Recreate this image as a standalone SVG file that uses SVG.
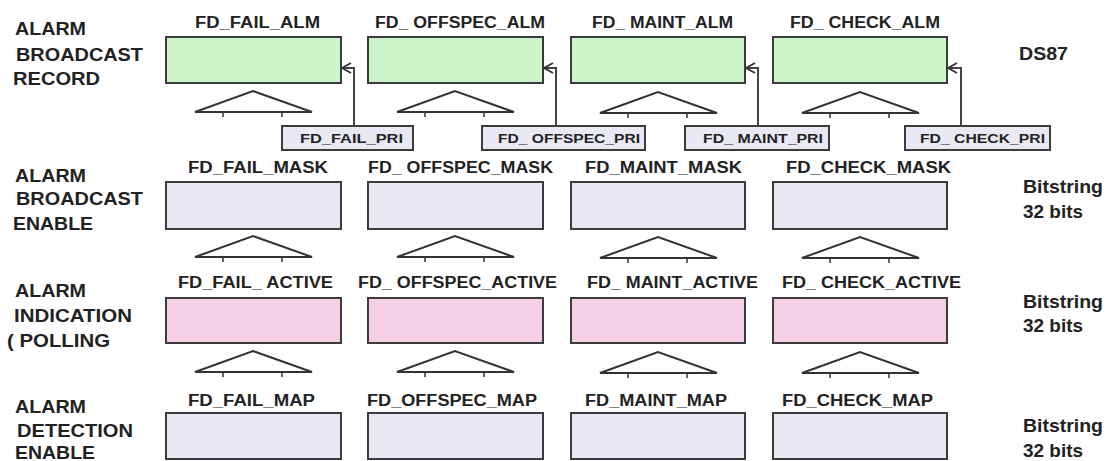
<svg xmlns="http://www.w3.org/2000/svg" width="1112" height="461" viewBox="0 0 1112 461">
<defs>
<style>
text{font-family:"Liberation Sans",Arial,sans-serif;font-weight:bold;fill:#222;}
.lt{font-size:18px;}
.nl{font-size:16px;}
.pl{font-size:13px;}
.rt{font-size:18px;}
.box{stroke:#3c3c3c;stroke-width:2;}
.g{fill:#ccf4c8;}
.l{fill:#e9e9f5;}
.p{fill:#f4cfe6;}
.pri{fill:#e9e9f5;stroke:#3c3c3c;stroke-width:2;}
.tri{fill:#fff;stroke:#333;stroke-width:2;stroke-linejoin:miter;}
.tick{stroke:#333;stroke-width:1.5;}
.con{fill:none;stroke:#444;stroke-width:2;}
</style>
<marker id="arr" markerWidth="12" markerHeight="12" refX="10" refY="6" orient="auto" markerUnits="userSpaceOnUse">
<path d="M1,1 L10,6 L1,11" fill="none" stroke="#333" stroke-width="1.8"/>
</marker>
<g id="triShape">
<polygon class="tri" points="0,21 58,0 117,21"/>
<line class="tick" x1="28" y1="21" x2="28" y2="26"/>
<line class="tick" x1="87" y1="21" x2="87" y2="26"/>
</g>
</defs>
<rect width="1112" height="461" fill="#ffffff"/>

<g id="row-labels">
<text class="lt" x="15" y="35" textLength="71" lengthAdjust="spacingAndGlyphs">ALARM</text>
<text class="lt" x="16" y="61" textLength="127" lengthAdjust="spacingAndGlyphs">BROADCAST</text>
<text class="lt" x="13" y="85" textLength="87" lengthAdjust="spacingAndGlyphs">RECORD</text>
<text class="lt" x="15" y="182" textLength="71" lengthAdjust="spacingAndGlyphs">ALARM</text>
<text class="lt" x="16" y="205" textLength="127" lengthAdjust="spacingAndGlyphs">BROADCAST</text>
<text class="lt" x="13" y="230" textLength="80" lengthAdjust="spacingAndGlyphs">ENABLE</text>
<text class="lt" x="15" y="297" textLength="71" lengthAdjust="spacingAndGlyphs">ALARM</text>
<text class="lt" x="14" y="322" textLength="118" lengthAdjust="spacingAndGlyphs">INDICATION</text>
<text class="lt" x="7" y="347" textLength="103" lengthAdjust="spacingAndGlyphs">( POLLING</text>
<text class="lt" x="15" y="413" textLength="71" lengthAdjust="spacingAndGlyphs">ALARM</text>
<text class="lt" x="17" y="437" textLength="116" lengthAdjust="spacingAndGlyphs">DETECTION</text>
<text class="lt" x="15" y="459" textLength="80" lengthAdjust="spacingAndGlyphs">ENABLE</text>
</g>

<g id="right-labels">
<text class="rt" x="1019" y="60" textLength="49" lengthAdjust="spacingAndGlyphs">DS87</text>
<text class="rt" x="1023" y="193" textLength="80" lengthAdjust="spacingAndGlyphs">Bitstring</text>
<text class="rt" x="1023" y="218" textLength="60" lengthAdjust="spacingAndGlyphs">32 bits</text>
<text class="rt" x="1023" y="308" textLength="80" lengthAdjust="spacingAndGlyphs">Bitstring</text>
<text class="rt" x="1023" y="332" textLength="60" lengthAdjust="spacingAndGlyphs">32 bits</text>
<text class="rt" x="1023" y="432" textLength="80" lengthAdjust="spacingAndGlyphs">Bitstring</text>
<text class="rt" x="1023" y="457" textLength="60" lengthAdjust="spacingAndGlyphs">32 bits</text>
</g>

<!-- Row 1: alarm broadcast record -->
<g id="fd-fail-alm">
<text class="nl" x="195" y="28" textLength="125" lengthAdjust="spacingAndGlyphs">FD_FAIL_ALM</text>
<rect class="box g" x="166" y="37" width="175" height="46"/>
</g>
<g id="fd-offspec-alm">
<text class="nl" x="375" y="28" textLength="170" lengthAdjust="spacingAndGlyphs">FD_ OFFSPEC_ALM</text>
<rect class="box g" x="368" y="37" width="175" height="46"/>
</g>
<g id="fd-maint-alm">
<text class="nl" x="592" y="28" textLength="141" lengthAdjust="spacingAndGlyphs">FD_ MAINT_ALM</text>
<rect class="box g" x="571" y="37" width="174" height="46"/>
</g>
<g id="fd-check-alm">
<text class="nl" x="790" y="28" textLength="150" lengthAdjust="spacingAndGlyphs">FD_ CHECK_ALM</text>
<rect class="box g" x="773" y="37" width="174" height="46"/>
</g>

<!-- PRI boxes -->
<g id="fd-fail-pri">
<rect class="pri" x="282" y="126" width="131" height="24"/>
<text class="pl" x="300" y="143" textLength="103" lengthAdjust="spacingAndGlyphs">FD_FAIL_PRI</text>
</g>
<g id="fd-offspec-pri">
<rect class="pri" x="482" y="126" width="163" height="24"/>
<text class="pl" x="498" y="143" textLength="142" lengthAdjust="spacingAndGlyphs">FD_ OFFSPEC_PRI</text>
</g>
<g id="fd-maint-pri">
<rect class="pri" x="685" y="126" width="144" height="24"/>
<text class="pl" x="703" y="143" textLength="120" lengthAdjust="spacingAndGlyphs">FD_ MAINT_PRI</text>
</g>
<g id="fd-check-pri">
<rect class="pri" x="905" y="126" width="145" height="24"/>
<text class="pl" x="920" y="143" textLength="125" lengthAdjust="spacingAndGlyphs">FD_ CHECK_PRI</text>
</g>

<!-- Row 2: alarm broadcast enable -->
<g id="fd-fail-mask">
<text class="nl" x="188" y="173" textLength="140" lengthAdjust="spacingAndGlyphs">FD_FAIL_MASK</text>
<rect class="box l" x="166" y="182" width="175" height="47"/>
</g>
<g id="fd-offspec-mask">
<text class="nl" x="368" y="173" textLength="185" lengthAdjust="spacingAndGlyphs">FD_ OFFSPEC_MASK</text>
<rect class="box l" x="368" y="182" width="175" height="47"/>
</g>
<g id="fd-maint-mask">
<text class="nl" x="585" y="173" textLength="157" lengthAdjust="spacingAndGlyphs">FD_MAINT_MASK</text>
<rect class="box l" x="571" y="182" width="174" height="47"/>
</g>
<g id="fd-check-mask">
<text class="nl" x="786" y="173" textLength="165" lengthAdjust="spacingAndGlyphs">FD_CHECK_MASK</text>
<rect class="box l" x="773" y="182" width="174" height="47"/>
</g>

<!-- Row 3: alarm indication -->
<g id="fd-fail-active">
<text class="nl" x="178" y="288" textLength="155" lengthAdjust="spacingAndGlyphs">FD_FAIL_ ACTIVE</text>
<rect class="box p" x="166" y="298" width="175" height="45"/>
</g>
<g id="fd-offspec-active">
<text class="nl" x="358" y="288" textLength="199" lengthAdjust="spacingAndGlyphs">FD_ OFFSPEC_ACTIVE</text>
<rect class="box p" x="368" y="298" width="175" height="45"/>
</g>
<g id="fd-maint-active">
<text class="nl" x="587" y="288" textLength="171" lengthAdjust="spacingAndGlyphs">FD_ MAINT_ACTIVE</text>
<rect class="box p" x="571" y="298" width="174" height="45"/>
</g>
<g id="fd-check-active">
<text class="nl" x="782" y="288" textLength="179" lengthAdjust="spacingAndGlyphs">FD_ CHECK_ACTIVE</text>
<rect class="box p" x="773" y="298" width="174" height="45"/>
</g>

<!-- Row 4: alarm detection enable -->
<g id="fd-fail-map">
<text class="nl" x="188" y="406" textLength="127" lengthAdjust="spacingAndGlyphs">FD_FAIL_MAP</text>
<rect class="box l" x="166" y="413" width="175" height="46"/>
</g>
<g id="fd-offspec-map">
<text class="nl" x="367" y="406" textLength="170" lengthAdjust="spacingAndGlyphs">FD_OFFSPEC_MAP</text>
<rect class="box l" x="368" y="413" width="175" height="46"/>
</g>
<g id="fd-maint-map">
<text class="nl" x="585" y="406" textLength="142" lengthAdjust="spacingAndGlyphs">FD_MAINT_MAP</text>
<rect class="box l" x="571" y="413" width="174" height="46"/>
</g>
<g id="fd-check-map">
<text class="nl" x="782" y="406" textLength="151" lengthAdjust="spacingAndGlyphs">FD_CHECK_MAP</text>
<rect class="box l" x="773" y="413" width="174" height="46"/>
</g>

<!-- Triangles (aggregation symbols) -->
<g id="triangles">
<use href="#triShape" x="195" y="91"/>
<use href="#triShape" x="397" y="91"/>
<use href="#triShape" x="600" y="92"/>
<use href="#triShape" x="802" y="92"/>
<use href="#triShape" x="195" y="236"/>
<use href="#triShape" x="397" y="236"/>
<use href="#triShape" x="600" y="237"/>
<use href="#triShape" x="802" y="237"/>
<use href="#triShape" x="195" y="351"/>
<use href="#triShape" x="397" y="351"/>
<use href="#triShape" x="600" y="352"/>
<use href="#triShape" x="802" y="352"/>
</g>

<g id="connectors">
<path class="con" d="M354,126 V68 H342" marker-end="url(#arr)"/>
<path class="con" d="M556,126 V68 H544" marker-end="url(#arr)"/>
<path class="con" d="M758,126 V68 H746" marker-end="url(#arr)"/>
<path class="con" d="M961,126 V68 H948" marker-end="url(#arr)"/>
</g>
</svg>
